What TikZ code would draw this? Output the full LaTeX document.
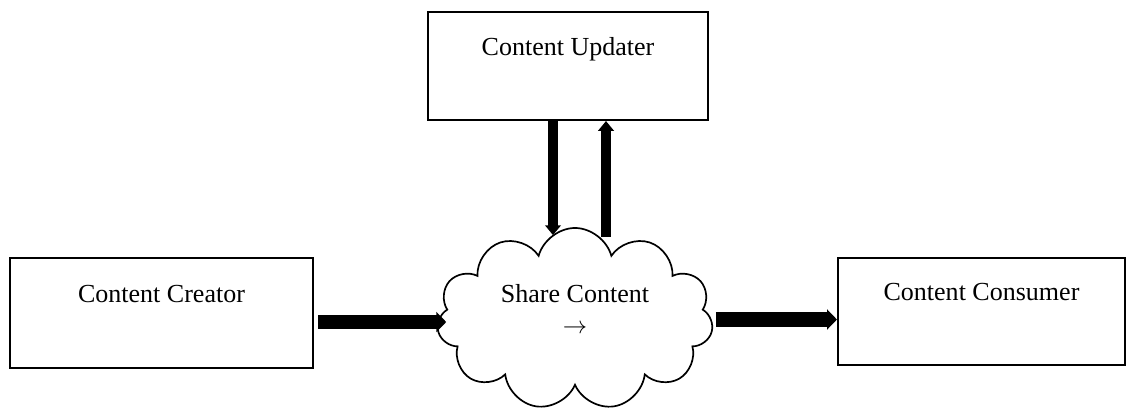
\documentclass[tikz,border=0pt]{standalone}
\usepackage{fontspec}
\setmainfont{Liberation Serif}
\usetikzlibrary{shapes.symbols,arrows.meta}

\begin{document}
\begin{tikzpicture}[x=0.025cm, y=-0.025cm,
        box/.style={draw, line width=1.4pt, text height=0.45cm, text depth=1.0cm, font=\fontsize{18.5}{22}\selectfont},
        flow/.style={line width=7pt, -{Triangle[length=7pt, width=11pt]}},
        bigflow/.style={line width=10pt, -{Triangle[length=7pt, width=14pt]}}]
                \useasboundingbox (0,0) rectangle (1133,410);

                \node[box, minimum width=7cm, minimum height=2.7cm] (updater) at (568,66) {Content Updater};
                \node[box, minimum width=7.575cm, minimum height=2.75cm] (creator) at (161.5,313) {Content Creator};
                \node[box, minimum width=7.175cm, minimum height=2.675cm] (consumer) at (981.5,311.5) {Content Consumer};

                \node[cloud, cloud puffs=11, cloud ignores aspect, draw, line width=1.2pt, fill=white,
                      minimum width=6.9cm, minimum height=4.55cm, align=center, text height=1.0cm, text depth=0.3cm,
                      font=\fontsize{18.5}{22}\selectfont] (share) at (575,319) {Share Content\\{\fontsize{16}{16}\selectfont$\rightarrow$}};

                \coordinate (cin) at ([xshift=0.1cm, yshift=-0.225cm]creator.east);
                \coordinate (cout) at ([xshift=0.1cm, yshift=-0.2cm]share.east |- consumer.west);

                \draw[flow] ([xshift=-0.375cm]updater.south) -- ([xshift=-0.375cm, yshift=-0.2cm]updater.south |- share.north);
                \draw[flow] ([xshift=0.95cm, yshift=-0.25cm]updater.south |- share.north) -- ([xshift=0.95cm]updater.south);

                \draw[bigflow] (cin) -- ([xshift=0.2cm]share.west |- cin);
                \draw[bigflow] (cout) -- (consumer.west |- cout);
            \end{tikzpicture}
\end{document}
